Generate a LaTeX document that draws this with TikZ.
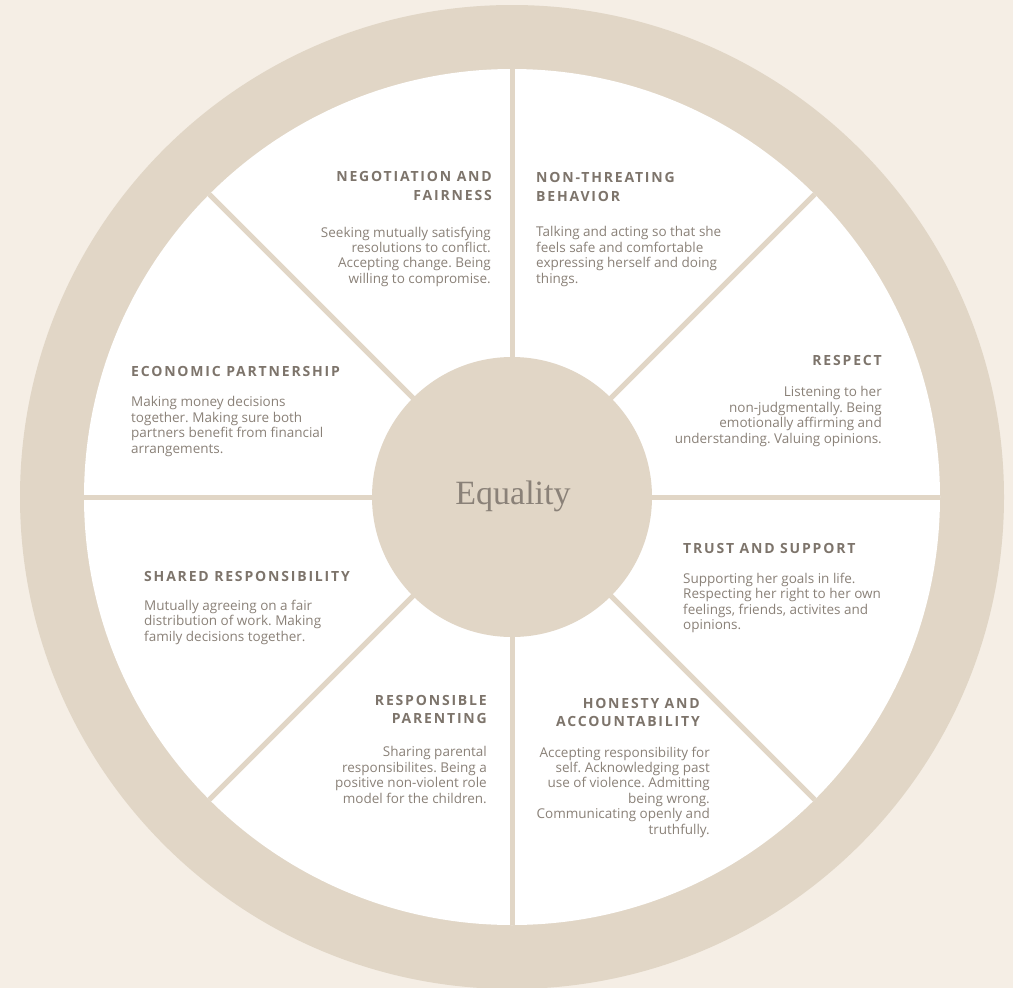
\documentclass[tikz,border=0pt]{standalone}
\usepackage{fontspec}
\setmainfont{Open Sans}
\newfontfamily\headfont[LetterSpace=13]{Open Sans}
\newfontfamily\eqfont{Liberation Serif}
\usetikzlibrary{positioning}
\frenchspacing
\definecolor{WheelBg}{HTML}{F5EEE5}
\definecolor{WheelRim}{HTML}{E1D6C6}
\definecolor{WheelHead}{HTML}{7D746B}
\definecolor{WheelText}{HTML}{8A8178}
\tikzset{
  headtxt/.style={inner sep=0pt,font=\headfont\bfseries\fontsize{14}{18.3}\selectfont,text=WheelHead},
  bodytxt/.style={inner sep=0pt,font=\fontsize{13.5}{15.4}\selectfont,text=WheelText},
  spoke/.style={draw=WheelRim,line width=5pt}
}

\begin{document}
\begin{tikzpicture}[x=1pt,y=-1pt]
\fill[WheelBg] (0,0) rectangle (1013,988);
\useasboundingbox (0,0) rectangle (1013,988);
\coordinate (c) at (512,497);
\fill[WheelRim] (c) circle[radius=492pt];
\fill[white] (c) circle[radius=428pt];
\foreach \a in {0,45,...,315}
  \draw[spoke] (c) -- ++(\a:428pt);
\node[circle,fill=WheelRim,minimum size=280pt,inner sep=0pt] (hub) at (c) {};
\node[font=\eqfont\fontsize{34}{34}\selectfont,text=WheelText,anchor=base] (eq) at (513,504) {Equality};
% top left
\node[headtxt,anchor=north east,align=right] (neghd) at (492,171.5) {NEGOTIATION AND\\FAIRNESS};
\node[bodytxt,anchor=north east,align=right] (negtx) at (491,226.5) {Seeking mutually satisfying\\resolutions to conflict.\\Accepting change. Being\\willing to compromise.};
% top right
\node[headtxt,anchor=north west,align=left] (nthd) at (536,172.5) {NON-THREATING\\BEHAVIOR};
\node[bodytxt,anchor=north west,align=left] (nttx) at (536,226.5) {Talking and acting so that she\\feels safe and comfortable\\expressing herself and doing\\things.};
% right upper
\node[headtxt,anchor=north east,align=right] (rsphd) at (882,355) {RESPECT};
\node[bodytxt,anchor=north east,align=right] (rsptx) at (882,386.5) {Listening to her\\non-judgmentally. Being\\emotionally affirming and\\understanding. Valuing opinions.};
% left upper
\node[headtxt,anchor=north west,align=left] (ecohd) at (131,366) {ECONOMIC PARTNERSHIP};
\node[bodytxt,anchor=north west,align=left] (ecotx) at (131,396.5) {Making money decisions\\together. Making sure both\\partners benefit from financial\\arrangements.};
% left lower
\node[headtxt,anchor=north west,align=left] (shrhd) at (144,571) {SHARED RESPONSIBILITY};
\node[bodytxt,anchor=north west,align=left] (shrtx) at (144,600) {Mutually agreeing on a fair\\distribution of work. Making\\family decisions together.};
% right lower
\node[headtxt,anchor=north west,align=left] (trshd) at (683,543.3) {TRUST AND SUPPORT};
\node[bodytxt,anchor=north west,align=left] (trstx) at (683,573) {Supporting her goals in life.\\Respecting her right to her own\\feelings, friends, activites and\\opinions.};
% bottom left
\node[headtxt,anchor=north east,align=right] (parhd) at (487,695) {RESPONSIBLE\\PARENTING};
\node[bodytxt,anchor=north east,align=right] (partx) at (487,746.5) {Sharing parental\\responsibilites. Being a\\positive non-violent role\\model for the children.};
% bottom right
\node[headtxt,anchor=north east,align=right] (honhd) at (700,698.3) {HONESTY AND\\ACCOUNTABILITY};
\node[bodytxt,anchor=north east,align=right] (hontx) at (710,746.5) {Accepting responsibility for\\self. Acknowledging past\\use of violence. Admitting\\being wrong.\\Communicating openly and\\truthfully.};
\end{tikzpicture}
\end{document}
